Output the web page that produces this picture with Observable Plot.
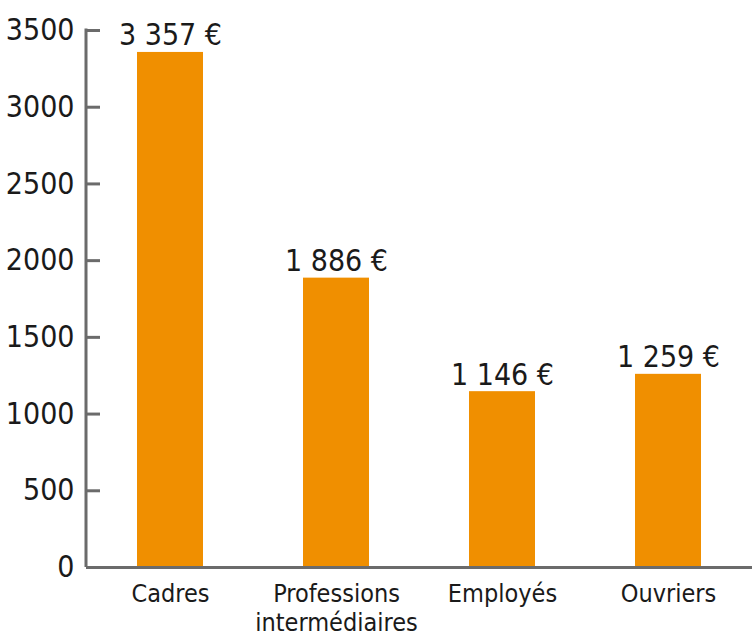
<!DOCTYPE html>
<html>
<head>
<meta charset="utf-8">
<script src="https://cdn.jsdelivr.net/npm/d3@7"></script>
<script src="https://cdn.jsdelivr.net/npm/@observablehq/plot@0.6"></script>
<style>
  html, body { margin: 0; padding: 0; background: #fff; }
  #chart svg { font-family: "DejaVu Sans Condensed", "Liberation Sans Narrow", sans-serif; font-stretch: condensed; }
</style>
</head>
<body>
<div id="chart"></div>
<script>
const categories = ["Cadres", "Professions\nintermédiaires", "Employés", "Ouvriers"];
const values = [3357, 1886, 1146, 1259];
const yTicks = [0, 500, 1000, 1500, 2000, 2500, 3000, 3500];

const data = categories.map((c, i) => ({category: c, value: values[i]}));
const fmt = v => d3.format(",")(v).replace(/,/g, " ") + " €";

const W = 752, H = 640, ML = 86;
const axisColor = "#6b6b6b";

// vertical axis line along the left edge of the frame
const leftLine = (index, scales, values, dims) => {
  const g = d3.create("svg:g");
  g.append("line")
    .attr("x1", dims.marginLeft).attr("x2", dims.marginLeft)
    .attr("y1", dims.marginTop - 1.5).attr("y2", dims.height - dims.marginBottom)
    .attr("stroke", axisColor).attr("stroke-width", 3);
  return g.node();
};

const chart = Plot.plot({
  width: W,
  height: H,
  marginLeft: ML,
  marginRight: 0,
  marginTop: 30,
  marginBottom: 73,
  style: {background: "#fff", color: "#1a1a1a", overflow: "visible"},
  x: {domain: categories, paddingInner: 0.6, paddingOuter: 0.3, label: null},
  y: {domain: [0, 3500], label: null},
  marks: [
    Plot.barY(data, {x: "category", y: "value", fill: "#F08F00"}),
    Plot.ruleY(yTicks.slice(1), {y: d => d, insetRight: W - ML - 14, stroke: axisColor, strokeWidth: 3}),
    Plot.axisY({ticks: yTicks, tickFormat: "d", tickSize: 0, tickPadding: 12, fontSize: 30, label: null}),
    leftLine,
    Plot.ruleY([0], {stroke: axisColor, strokeWidth: 3}),
    Plot.axisX({tickSize: 0, tickPadding: 14, fontSize: 25, lineHeight: 1.15, label: null}),
    Plot.text(data, {x: "category", y: "value", text: d => fmt(d.value), dy: -7, lineAnchor: "bottom", fontSize: 30, fill: "#1a1a1a"})
  ]
});
document.getElementById("chart").appendChild(chart);
</script>
</body>
</html>
